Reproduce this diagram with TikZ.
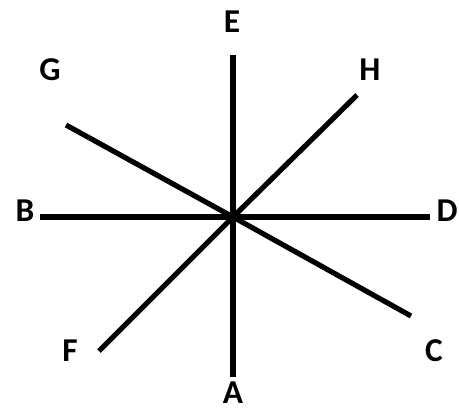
\documentclass[tikz,border=0pt]{standalone}
\usepackage{fontspec}
\setmainfont{Carlito}
\usepackage{tikz}
\usetikzlibrary{positioning}

\begin{document}
\begin{tikzpicture}[x=0.75pt, y=-0.75pt,
    ray/.style={line width=3.9pt, black},
    lbl/.style={font=\fontsize{25}{30}\selectfont\bfseries, inner sep=0pt}]
        \useasboundingbox (0,0) rectangle (459,410);
        
        % centre and line ends
        \coordinate (o) at (233,217);
        \coordinate (eE) at (233,55);
        \coordinate (eA) at (233,377);
        \coordinate (eB) at (40,217);
        \coordinate (eD) at (430,217);
        \coordinate (eG) at (66,125);
        \coordinate (eC) at (411,316);
        \coordinate (eH) at (357,95);
        \coordinate (eF) at (99,351);
        
        % rays
        \foreach \p in {E, A, B, D, G, C, H, F}
            \draw[ray] (o) -- (e\p);
        
        % labels
        \node[lbl] (E) at (232,22) {E};
        \node[lbl] (A) at (233,393) {A};
        \node[lbl] (B) at (25,211) {B};
        \node[lbl] (D) at (447,211) {D};
        \node[lbl] (G) at (50,70) {G};
        \node[lbl] (H) at (370,70) {H};
        \node[lbl] (F) at (70,351) {F};
        \node[lbl] (C) at (434,351) {C};
            
    \end{tikzpicture}
\end{document}
